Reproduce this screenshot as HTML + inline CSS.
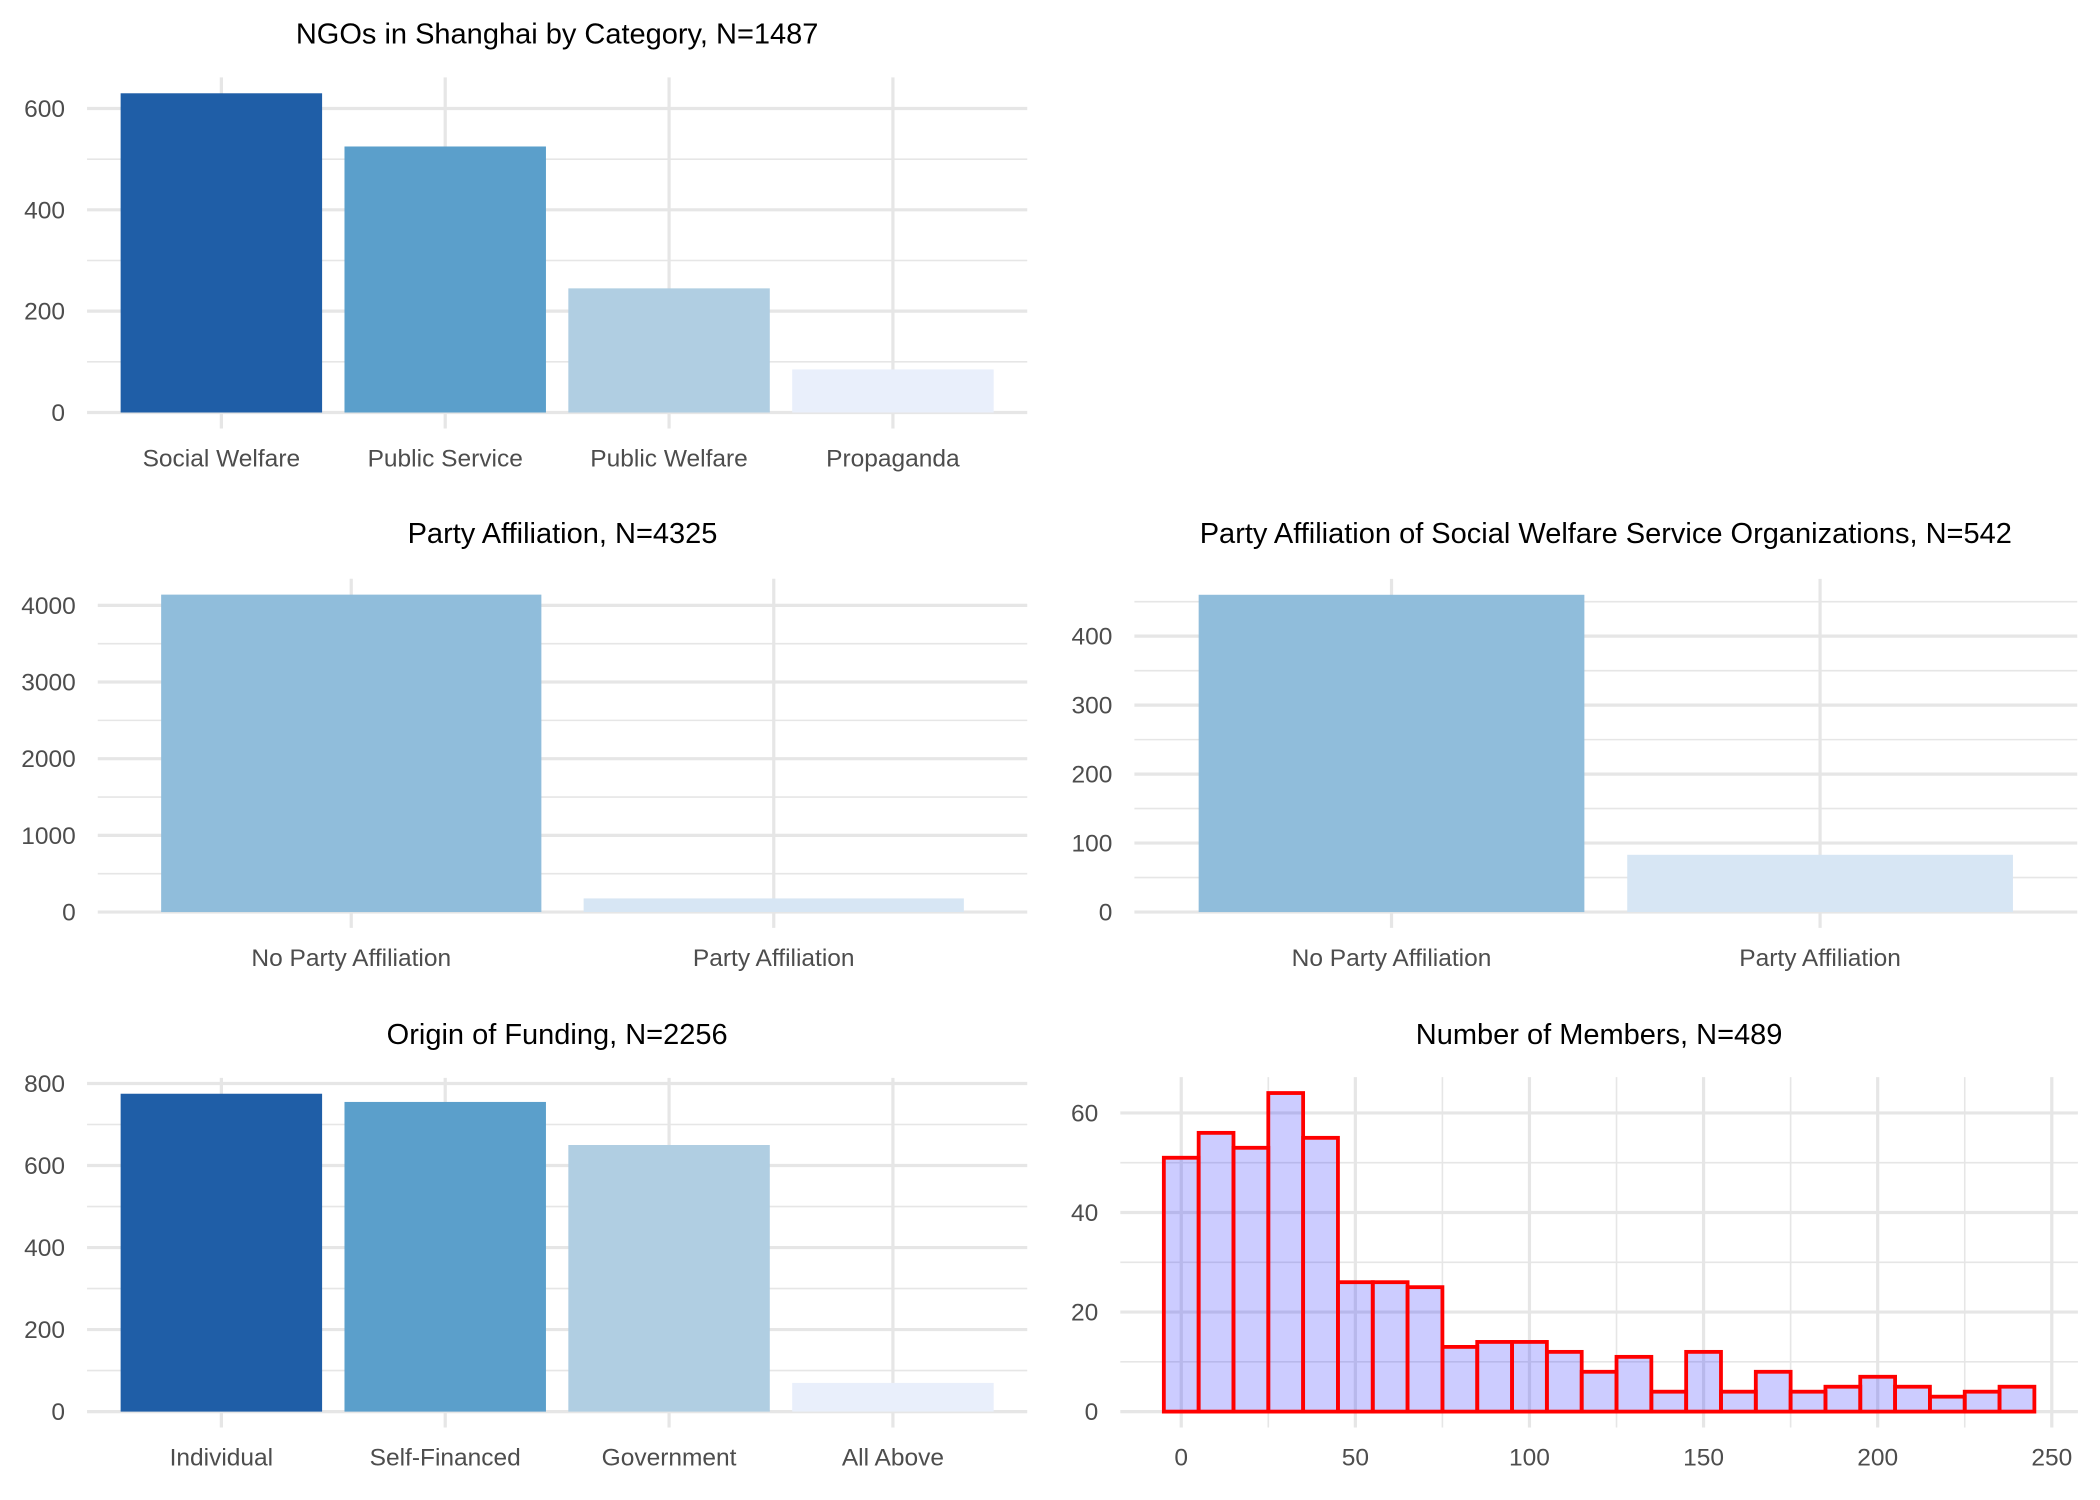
<!DOCTYPE html>
<html><head><meta charset="utf-8">
<style>
html,body{margin:0;padding:0;background:#fff;}
svg{display:block;font-family:"Liberation Sans",Arial,sans-serif;}
</style></head>
<body>
<svg id="chart" xmlns="http://www.w3.org/2000/svg" width="2100" height="1500" viewBox="0 0 2100 1500"></svg>
<script>
// ---- data ----
const catCategories = ["Social Welfare","Public Service","Public Welfare","Propaganda"];
const catValues = [630, 525, 245, 85];
const catColors = ["#1f5ea7","#5b9fcb","#b0cee2","#e9effb"];
const catTicks = [0,200,400,600];

const partyCategories = ["No Party Affiliation","Party Affiliation"];
const partyValues = [4140, 178];
const partyTicks = [0,1000,2000,3000,4000];

const swPartyCategories = ["No Party Affiliation","Party Affiliation"];
const swPartyValues = [460, 83];
const swPartyTicks = [0,100,200,300,400];
const partyColors = ["#90bddb","#d7e6f4"];

const fundCategories = ["Individual","Self-Financed","Government","All Above"];
const fundValues = [775, 755, 650, 70];
const fundTicks = [0,200,400,600,800];

const histBinCenters = [0,10,20,30,40,50,60,70,80,90,100,110,120,130,140,150,160,170,180,190,200,210,220,230,240];
const histCounts = [51,56,53,64,55,26,26,25,13,14,14,12,8,11,4,12,4,8,4,5,7,5,3,4,5];
const histYTicks = [0,20,40,60];
const histXTicks = [0,50,100,150,200,250];

// ---- rendering ----
const S = 2100/1568;
const TICK_FS = 24.5, TITLE_FS = 29;
const NS = "http://www.w3.org/2000/svg";
const svg = document.getElementById("chart");
function mk(tag, parent){ const e=document.createElementNS(NS,tag); (parent||svg).appendChild(e); return e; }
function hline(g,x0,x1,y,w){ const l=mk("line",g); l.setAttribute("x1",x0); l.setAttribute("x2",x1); l.setAttribute("y1",y); l.setAttribute("y2",y); l.setAttribute("stroke","#e6e6e6"); l.setAttribute("stroke-width",w); return l; }
function vline(g,x,y0,y1,w){ const l=mk("line",g); l.setAttribute("x1",x); l.setAttribute("x2",x); l.setAttribute("y1",y0); l.setAttribute("y2",y1); l.setAttribute("stroke","#e6e6e6"); l.setAttribute("stroke-width",w); return l; }
function txt(g,x,y,s,size,anchor,fill){ const t=mk("text",g); t.setAttribute("x",x); t.setAttribute("y",y); t.setAttribute("font-size",size); t.setAttribute("text-anchor",anchor); t.setAttribute("fill",fill); t.textContent=s; return t; }

function yScaleFactory(zeroY, refVal, refY){ const k=(zeroY-refY)/refVal*S; return v => zeroY*S - v*k; }

function barPanel(name, title, cats, vals, colors, ticks, geom){
  const g = mk("g");
  
  
  const x0=geom.x0*S, x1=geom.x1*S;
  const y = yScaleFactory(geom.zeroY, geom.refVal, geom.refY);
  const maxV = Math.max(...vals);
  const top = y(maxV*1.05), bot = y(-maxV*0.05);
  const unit = (x1-x0)/(cats.length+0.2);
  const xc = i => x0 + unit*(0.6+i);
  const step = ticks[1]-ticks[0];
  for(let v=step/2; v<=maxV*1.05; v+=step){ if(ticks.indexOf(v)<0){ const l=hline(g,x0,x1,y(v),1.6);   } }
  ticks.forEach(v=>{
    const l=hline(g,x0,x1,y(v),3.2);
    
    
    const t=txt(g,x0-22,y(v)+8.5,String(v),TICK_FS,"end","#4d4d4d");
    
    
  });
  cats.forEach((c,i)=>{
    const l=vline(g,xc(i),top,bot,3.2);
    
    
  });
  cats.forEach((c,i)=>{
    const r=mk("rect",g);
    r.setAttribute("x",xc(i)-unit*0.45); r.setAttribute("width",unit*0.9);
    r.setAttribute("y",y(vals[i])); r.setAttribute("height",y(0)-y(vals[i]));
    r.setAttribute("fill",colors[i]);
    
    
    const t=txt(g,xc(i),geom.labelY*S+8.5,c,TICK_FS,"middle","#4d4d4d");
    
    
  });
  const tt=txt(g,(x0+x1)/2,geom.titleY*S+10,title,TITLE_FS,"middle","#000");
  
  
}

barPanel("category-chart","NGOs in Shanghai by Category, N=1487",catCategories,catValues,catColors,catTicks,{x0:65,x1:767,zeroY:308,refVal:600,refY:81,labelY:342,titleY:25});
barPanel("party-chart","Party Affiliation, N=4325",partyCategories,partyValues,partyColors,partyTicks,{x0:73,x1:767,zeroY:681,refVal:4000,refY:452,labelY:715,titleY:398});
barPanel("sw-party-chart","Party Affiliation of Social Welfare Service Organizations, N=542",swPartyCategories,swPartyValues,partyColors,swPartyTicks,{x0:847,x1:1551,zeroY:681,refVal:400,refY:475,labelY:715,titleY:398});
barPanel("funding-chart","Origin of Funding, N=2256",fundCategories,fundValues,catColors,fundTicks,{x0:65,x1:767,zeroY:1054,refVal:800,refY:809,labelY:1088,titleY:772});

// histogram
(function(){
  const g = mk("g");
  
  
  const zeroX=882, k=(1532-882)/250;
  const x = v => (zeroX + v*k)*S;
  const y = yScaleFactory(1054, 60, 831);
  const maxC = Math.max(...histCounts);
  const binW = histBinCenters[1]-histBinCenters[0];
  const lo = histBinCenters[0]-binW/2, hi = histBinCenters[histBinCenters.length-1]+binW/2;
  const pad = (hi-lo)*0.05;
  const x0=x(lo-pad), x1=x(hi+pad), top=y(maxC*1.05), bot=y(-maxC*0.05);
  for(let v=10; v<=maxC*1.05; v+=20){ const l=hline(g,x0,x1,y(v),1.6);   }
  for(let v=25; v<250; v+=50){ const l=vline(g,x(v),top,bot,1.6);   }
  histYTicks.forEach(v=>{
    const l=hline(g,x0,x1,y(v),3.2);
    
    
    const t=txt(g,x0-22,y(v)+8.5,String(v),TICK_FS,"end","#4d4d4d");
    
    
  });
  histXTicks.forEach(v=>{
    const l=vline(g,x(v),top,bot,3.2);
    
    
    const t=txt(g,x(v),1088*S+8.5,String(v),TICK_FS,"middle","#4d4d4d");
    
    
  });
  histBinCenters.forEach((c,i)=>{
    const r=mk("rect",g);
    r.setAttribute("x",x(c-binW/2)); r.setAttribute("width",x(c+binW/2)-x(c-binW/2));
    r.setAttribute("y",y(histCounts[i])); r.setAttribute("height",y(0)-y(histCounts[i]));
    r.setAttribute("fill","rgba(0,0,255,0.2)");
    r.setAttribute("stroke","#ff0000"); r.setAttribute("stroke-width",3.8);
    
    
  });
  const tt=txt(g,(x0+x1)/2,772*S+10,"Number of Members, N=489",TITLE_FS,"middle","#000");
  
  
})();
</script>
</body></html>
